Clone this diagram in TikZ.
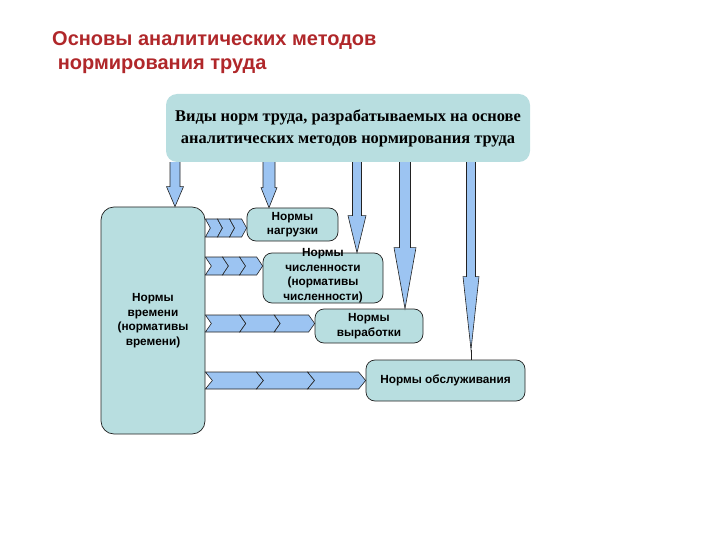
\documentclass[tikz,border=0pt]{standalone}
\usepackage{fontspec}
\setmainfont{Liberation Serif}
\setsansfont{Liberation Sans}
\usetikzlibrary{calc}
\definecolor{teal1}{HTML}{B8DEE0}
\definecolor{ablue}{HTML}{9CC4F2}
\definecolor{titlered}{HTML}{B0272A}
\definecolor{edge}{HTML}{222222}
\tikzset{
  box/.style={draw=edge, line width=0.7pt, fill=teal1, rounded corners=9pt, align=center,
    font=\sffamily\bfseries\fontsize{11.8}{14.5}\selectfont, inner sep=0pt},
  barrow/.style={draw=edge, line width=0.6pt, fill=ablue},
  chev/.style={draw=edge, line width=0.6pt, fill=ablue},
}
\newcommand\barr[5]{%
  \draw[barrow] ($(#1)+(-#4,0)$) -- ($(#2)+(-#4,-#3)$) -- ($(#2)+(-#5,-#3)$) -- (#2)
    -- ($(#2)+(#5,-#3)$) -- ($(#2)+(#4,-#3)$) -- ($(#1)+(#4,0)$);}
\newcommand\chevrow[5]{%
  \coordinate (cs) at (#1.east |- 0,#3);
  \coordinate (ce) at ($(#2.west |- 0,#3)+(-#5,0)$);
  \foreach \i/\j in {0/1,1/2,2/3}{
    \draw[chev] ($(cs)!\i/3!(ce)+(0,-#4)$) -- ($(cs)!\j/3!(ce)+(0,-#4)$)
      -- ($(cs)!\j/3!(ce)+(#5,0)$) -- ($(cs)!\j/3!(ce)+(0,#4)$)
      -- ($(cs)!\i/3!(ce)+(0,#4)$) -- ($(cs)!\i/3!(ce)+(#5,0)$) -- cycle;
  }}
\begin{document}
\begin{tikzpicture}[x=1pt,y=-1pt]
\useasboundingbox (0,0) rectangle (720,540);
% title
\node[anchor=north west, align=left, text=titlered, font=\sffamily\bfseries\fontsize{20}{24}\selectfont, inner sep=0pt]
  (title) at (52,31) {Основы аналитических методов\\\ нормирования труда};
% top box
\node[fill=teal1, rounded corners=11pt, minimum width=364pt, minimum height=68pt, align=center,
  font=\rmfamily\bfseries\fontsize{16.4}{22}\selectfont, inner sep=0pt]
  (top) at (348,128) {Виды норм труда, разрабатываемых на основе\\аналитических методов нормирования труда};
% boxes
\node[box, minimum width=104pt, minimum height=227pt, rounded corners=13pt] (time) at (153,320.5)
  {Нормы\\времени\\(нормативы\\времени)};
\node[box, minimum width=91pt, minimum height=33pt] (load) at (292.5,224.5) {Нормы\\нагрузки};
\node[box, minimum width=120pt, minimum height=50pt] (num) at (323,278) {};
\node[align=center, font=\sffamily\bfseries\fontsize{11.8}{14.5}\selectfont, inner sep=0pt] (numt) at (323,275.5)
  {Нормы\\численности\\(нормативы\\численности)};
\node[box, minimum width=108pt, minimum height=34pt] (out) at (369,326) {Нормы\\выработки};
\node[box, minimum width=159pt, minimum height=41pt] (serv) at (445.5,380.5) {Нормы обслуживания};
% down block arrows
\coordinate (s1) at (top.south -| 175,0);  \coordinate (t1) at (time.north -| 175,0);
\coordinate (s2) at (top.south -| 269,0);  \coordinate (t2) at (load.north -| 269,0);
\coordinate (s3) at (top.south -| 357,0);  \coordinate (t3) at (num.north -| 357,0);
\coordinate (s4) at (top.south -| 405,0);  \coordinate (t4) at (out.north -| 405,0);
\coordinate (s5) at (top.south -| 471,0);  \coordinate (t5) at ($(serv.north -| 471,0)+(0,-10)$);
\barr{s1}{t1}{20}{5}{8.5}
\barr{s2}{t2}{20}{6}{8}
\barr{s3}{t3}{37}{4.5}{9}
\barr{s4}{t4}{61}{5.5}{11}
\barr{s5}{t5}{73}{4.5}{8}
\draw[edge, line width=0.8pt] (t5) -- (serv.north -| t5);
% chevron rows
\chevrow{time}{load}{228}{9}{5}
\chevrow{time}{num}{266}{9}{6}
\chevrow{time}{out}{323.5}{8.5}{6}
\chevrow{time}{serv}{380.5}{8.5}{7}
\end{tikzpicture}
\end{document}
